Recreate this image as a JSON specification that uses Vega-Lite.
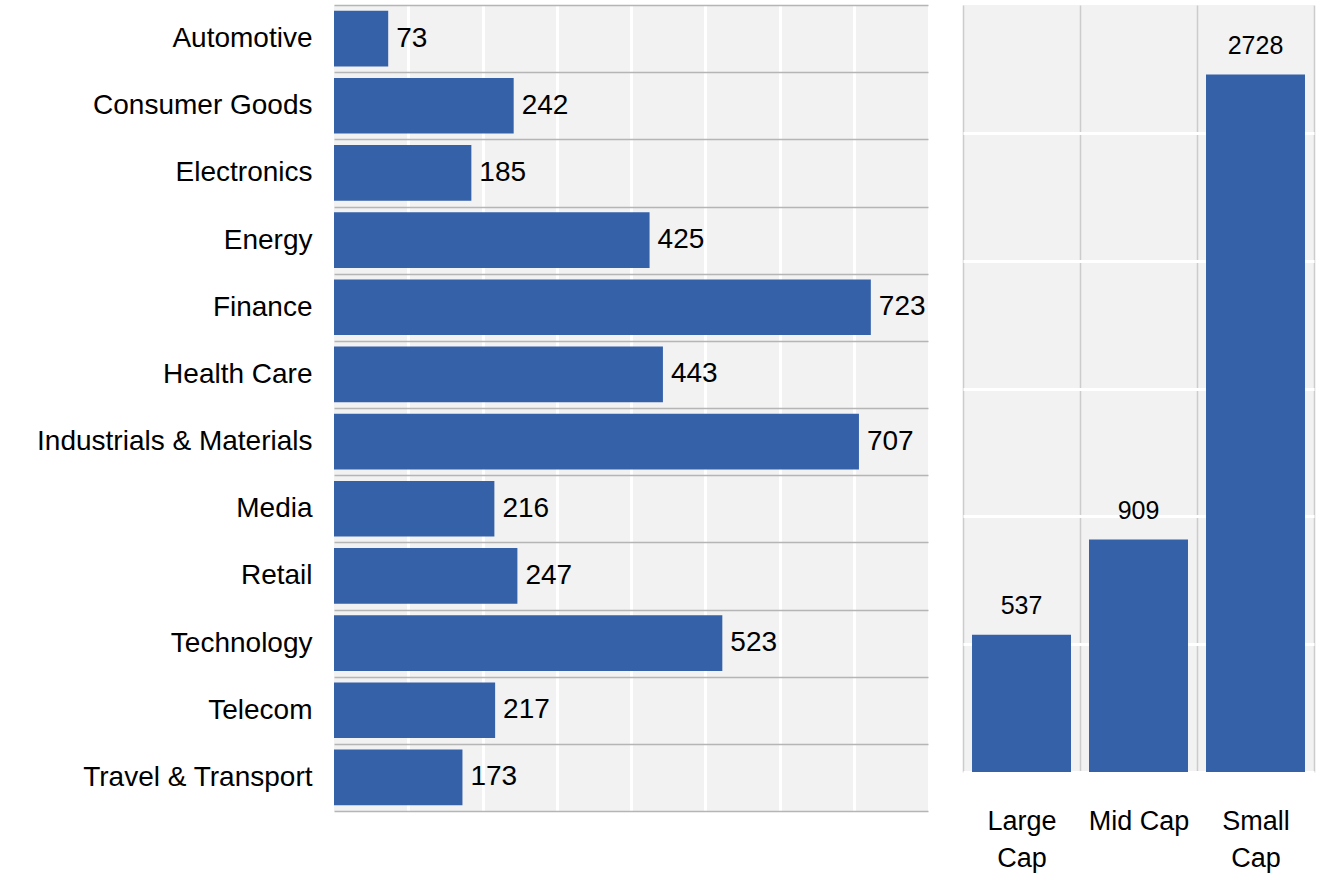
{
  "$schema": "https://vega.github.io/schema/vega-lite/v6.json",
  "padding": {"left": 36, "top": 5, "right": 4, "bottom": 5},
  "background": "white",
  "config": {
    "font": "Liberation Sans",
    "view": {"fill": "#f2f2f2", "stroke": null},
    "concat": {"spacing": 35}
  },
  "datasets": {
    "sectors": [
      {"sector": "Automotive", "count": 73},
      {"sector": "Consumer Goods", "count": 242},
      {"sector": "Electronics", "count": 185},
      {"sector": "Energy", "count": 425},
      {"sector": "Finance", "count": 723},
      {"sector": "Health Care", "count": 443},
      {"sector": "Industrials & Materials", "count": 707},
      {"sector": "Media", "count": 216},
      {"sector": "Retail", "count": 247},
      {"sector": "Technology", "count": 523},
      {"sector": "Telecom", "count": 217},
      {"sector": "Travel & Transport", "count": 173}
    ],
    "caps": [
      {"cap": "Large Cap", "count": 537},
      {"cap": "Mid Cap", "count": 909},
      {"cap": "Small Cap", "count": 2728}
    ]
  },
  "hconcat": [
    {
      "width": 594,
      "height": 806,
      "data": {"name": "sectors"},
      "encoding": {
        "y": {
          "field": "sector", "type": "nominal", "sort": null,
          "scale": {"paddingInner": 0, "paddingOuter": 0},
          "axis": {
            "title": null, "domain": false, "ticks": false,
            "labelFontSize": {"condition": {"test": "!isValid(datum.value)", "value": 0}, "value": 28},
            "labelPadding": 22, "labelColor": "black",
            "labelLimit": 500,
            "labelExpr": "isValid(datum.value) ? datum.value : ''",
            "grid": true, "tickBand": "extent", "gridColor": "#b5b5b5", "gridWidth": 1.5
          }
        },
        "x": {
          "field": "count", "type": "quantitative",
          "scale": {"domain": [0, 800], "nice": false},
          "axis": {
            "title": null, "labels": false, "ticks": false, "domain": false,
            "grid": true, "gridColor": "white", "gridWidth": 3,
            "values": [100, 200, 300, 400, 500, 600, 700]
          }
        }
      },
      "layer": [
        {"mark": {"type": "bar", "color": "#3561a8", "height": {"band": 0.83}}},
        {
          "mark": {"type": "text", "align": "left", "baseline": "middle", "dx": 8, "fontSize": 28, "color": "black"},
          "encoding": {"text": {"field": "count", "type": "quantitative"}}
        }
      ]
    },
    {
      "width": 351,
      "height": 767,
      "data": {"name": "caps"},
      "encoding": {
        "x": {
          "field": "cap", "type": "nominal", "sort": null,
          "scale": {"paddingInner": 0, "paddingOuter": 0},
          "axis": {
            "title": null, "domain": false, "ticks": false, "labelAngle": 0,
            "labelFontSize": {"condition": {"test": "!isValid(datum.value)", "value": 0}, "value": 27},
            "labelPadding": 36, "labelColor": "black",
            "labelBaseline": "top", "labelLineHeight": 37,
            "labelExpr": "!isValid(datum.value) ? '' : datum.value == 'Mid Cap' ? 'Mid Cap' : split(datum.value, ' ')",
            "grid": true, "tickBand": "extent", "gridColor": "#cccccc", "gridWidth": 1.5
          }
        },
        "y": {
          "field": "count", "type": "quantitative",
          "scale": {"domain": [0, 3000], "nice": false},
          "axis": {
            "title": null, "labels": false, "ticks": false, "domain": false,
            "grid": true, "gridColor": "white", "gridWidth": 3,
            "values": [0, 500, 1000, 1500, 2000, 2500]
          }
        }
      },
      "layer": [
        {"mark": {"type": "bar", "color": "#3561a8", "width": {"band": 0.846}}},
        {
          "mark": {"type": "text", "align": "center", "baseline": "bottom", "dy": -16, "fontSize": 25, "color": "black"},
          "encoding": {"text": {"field": "count", "type": "quantitative"}}
        }
      ]
    }
  ]
}
